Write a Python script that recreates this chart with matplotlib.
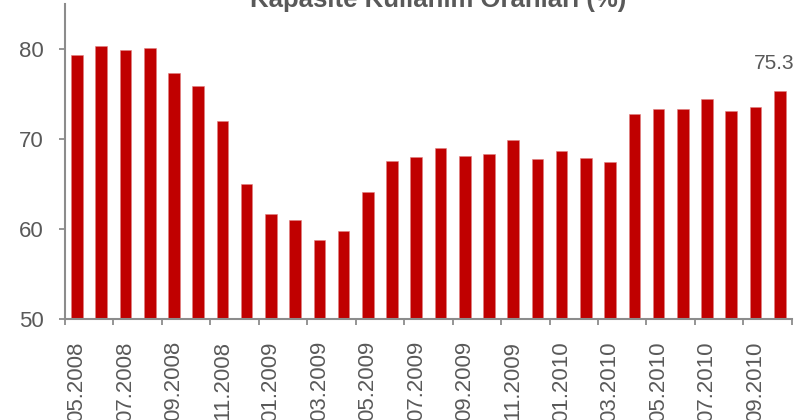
import matplotlib.pyplot as plt
import numpy as np

# aylar (05.2008 - 10.2010)
months = ["05.2008", "06.2008", "07.2008", "08.2008", "09.2008", "10.2008",
          "11.2008", "12.2008", "01.2009", "02.2009", "03.2009", "04.2009",
          "05.2009", "06.2009", "07.2009", "08.2009", "09.2009", "10.2009",
          "11.2009", "12.2009", "01.2010", "02.2010", "03.2010", "04.2010",
          "05.2010", "06.2010", "07.2010", "08.2010", "09.2010", "10.2010"]
values = [79.3, 80.4, 79.9, 80.1, 77.4, 75.9, 72.0, 65.0, 61.7, 61.0,
          58.8, 59.8, 64.1, 67.6, 68.0, 69.0, 68.1, 68.3, 69.9, 67.8,
          68.7, 67.9, 67.4, 72.8, 73.4, 73.4, 74.5, 73.1, 73.6, 75.3]
yticks = [50, 60, 70, 80]
title = "Kapasite Kullanım Oranları (%)"

red = "#C00000"
grey = "#595959"
axis_grey = "#8C8C8C"

plt.rcParams['font.family'] = ['Liberation Sans', 'DejaVu Sans']

fig = plt.figure(figsize=(8.08, 4.20), dpi=100)
ax = fig.add_axes([0.0804, 0.2405, 0.8996, 0.7495])

x = np.arange(len(values))
ax.bar(x, values, width=0.48, color=red, edgecolor="#E08080", linewidth=0.4)

ax.set_xlim(-0.5, len(values) - 0.5)
ax.set_ylim(50, 85)
ax.set_yticks(yticks)
ax.set_yticklabels([str(v) for v in yticks], fontsize=16, color=grey)

# etiketler her iki ayda bir, tikler aralarda
ax.set_xticks(x[::2])
ax.set_xticklabels(months[::2], rotation=90, fontsize=16, color=grey)
ax.set_xticks(np.arange(-0.5, len(values), 2), minor=True)
ax.tick_params(axis='x', which='major', length=0, pad=16)
ax.tick_params(axis='x', which='minor', length=4, width=1.3, color=axis_grey)
ax.tick_params(axis='y', length=4, width=1.3, color=axis_grey, pad=11.5)

for s in ["top", "right"]:
    ax.spines[s].set_visible(False)
for s in ["left", "bottom"]:
    ax.spines[s].set_color(axis_grey)
    ax.spines[s].set_linewidth(1.5)

ax.annotate(f"{values[-1]:.1f}", xy=(x[-1], values[-1]), xytext=(-4, 16),
            textcoords="offset points", ha="center", va="baseline",
            fontsize=15, color=grey)

fig.text(0.542, 0.983, title, ha="center", va="baseline",
         fontsize=18.5, fontweight="bold", color=grey)

fig.savefig("out.png", dpi=100)
